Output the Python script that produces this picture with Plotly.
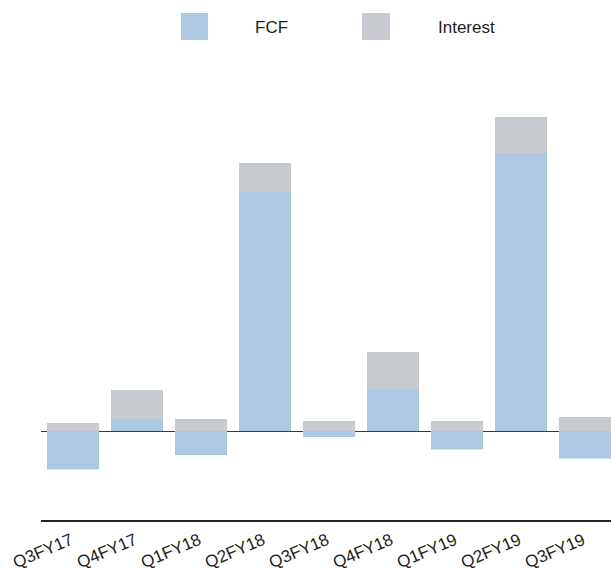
import plotly.graph_objects as go

quarters = ["Q3FY17", "Q4FY17", "Q1FY18", "Q2FY18", "Q3FY18",
            "Q4FY18", "Q1FY19", "Q2FY19", "Q3FY19"]
fcf = [-38.5, 12, -24, 239, -6, 41, -18.5, 278, -27.5]
interest = [8, 29, 12, 29, 10, 38, 10, 36, 14]

BLUE = "#acc8e3"
GREY = "#c7cacf"
INK = "#231f20"

# plot area in pixels (used for legend placement in paper units)
W, H = 611, 569
L, T, B = 41, 60, 49
PW, PH = W - L, H - T - B


def px(x):
    return (x - L) / PW


def py(y):
    return (H - B - y) / PH


fig = go.Figure()
fig.add_bar(x=quarters, y=fcf, name="FCF", marker_color=BLUE,
            marker_line_width=0)
fig.add_bar(x=quarters, y=interest, name="Interest", marker_color=GREY,
            marker_line_width=0)

# custom legend with large swatches
for x0, x1, col in [(181, 208, BLUE), (362, 390, GREY)]:
    fig.add_shape(type="rect", xref="paper", yref="paper",
                  x0=px(x0), x1=px(x1), y0=py(40), y1=py(13),
                  fillcolor=col, line_width=0, layer="above")
for xc, txt in [(271, "FCF"), (466, "Interest")]:
    fig.add_annotation(xref="paper", yref="paper", x=px(xc), y=py(28),
                       text=txt, showarrow=False, xanchor="center",
                       yanchor="middle",
                       font=dict(size=17, color=INK,
                                 family="Liberation Sans, Arial, sans-serif"))

fig.update_layout(
    width=W, height=H,
    barmode="relative",
    bargap=0.1875,
    showlegend=False,
    plot_bgcolor="white", paper_bgcolor="white",
    margin=dict(l=L, r=0, t=T, b=B, pad=0, autoexpand=False),
    font=dict(family="Liberation Sans, Arial, sans-serif", color=INK),
    xaxis=dict(range=[-0.5, -0.5 + PW / 64], showgrid=False,
               automargin=False,
               showline=True, linecolor=INK, linewidth=2,
               ticks="", ticklabelstandoff=2, ticklabelshift=-2,
               tickangle=-23, tickfont=dict(size=17, color=INK)),
    yaxis=dict(range=[-89, 371], visible=True, showgrid=False,
               automargin=False,
               showticklabels=False, ticks="", showline=False,
               zeroline=True, zerolinecolor="#3a3a3a", zerolinewidth=1.2),
)

fig.write_html("out.html")
